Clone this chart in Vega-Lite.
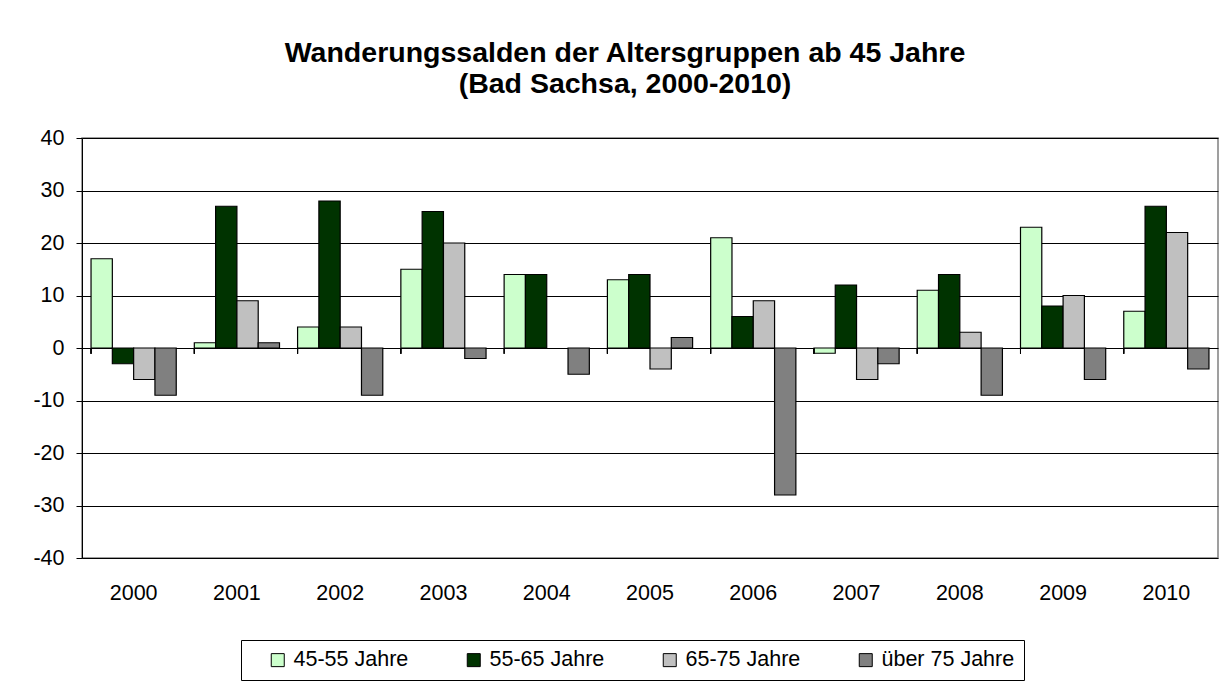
{
  "$schema": "https://vega.github.io/schema/vega-lite/v6.json",
  "width": 1136,
  "height": 420,
  "autosize": "none",
  "padding": {"left": 82, "top": 138, "right": 5, "bottom": 133},
  "background": "white",
  "title": {
    "text": ["Wanderungssalden der Altersgruppen ab 45 Jahre", "(Bad Sachsa, 2000-2010)"],
    "font": "Liberation Sans",
    "fontSize": 28.5,
    "fontWeight": "bold",
    "color": "black",
    "anchor": "middle",
    "frame": "group",
    "lineHeight": 31,
    "offset": 29,
    "dx": -25
  },
  "config": {
    "view": {"stroke": "#808080", "strokeWidth": 1.5},
    "font": "Liberation Sans"
  },
  "data": {
    "values": [
      {"year": "2000", "group": "45-55 Jahre", "value": 17},
      {"year": "2000", "group": "55-65 Jahre", "value": -3},
      {"year": "2000", "group": "65-75 Jahre", "value": -6},
      {"year": "2000", "group": "über 75 Jahre", "value": -9},
      {"year": "2001", "group": "45-55 Jahre", "value": 1},
      {"year": "2001", "group": "55-65 Jahre", "value": 27},
      {"year": "2001", "group": "65-75 Jahre", "value": 9},
      {"year": "2001", "group": "über 75 Jahre", "value": 1},
      {"year": "2002", "group": "45-55 Jahre", "value": 4},
      {"year": "2002", "group": "55-65 Jahre", "value": 28},
      {"year": "2002", "group": "65-75 Jahre", "value": 4},
      {"year": "2002", "group": "über 75 Jahre", "value": -9},
      {"year": "2003", "group": "45-55 Jahre", "value": 15},
      {"year": "2003", "group": "55-65 Jahre", "value": 26},
      {"year": "2003", "group": "65-75 Jahre", "value": 20},
      {"year": "2003", "group": "über 75 Jahre", "value": -2},
      {"year": "2004", "group": "45-55 Jahre", "value": 14},
      {"year": "2004", "group": "55-65 Jahre", "value": 14},
      {"year": "2004", "group": "über 75 Jahre", "value": -5},
      {"year": "2005", "group": "45-55 Jahre", "value": 13},
      {"year": "2005", "group": "55-65 Jahre", "value": 14},
      {"year": "2005", "group": "65-75 Jahre", "value": -4},
      {"year": "2005", "group": "über 75 Jahre", "value": 2},
      {"year": "2006", "group": "45-55 Jahre", "value": 21},
      {"year": "2006", "group": "55-65 Jahre", "value": 6},
      {"year": "2006", "group": "65-75 Jahre", "value": 9},
      {"year": "2006", "group": "über 75 Jahre", "value": -28},
      {"year": "2007", "group": "45-55 Jahre", "value": -1},
      {"year": "2007", "group": "55-65 Jahre", "value": 12},
      {"year": "2007", "group": "65-75 Jahre", "value": -6},
      {"year": "2007", "group": "über 75 Jahre", "value": -3},
      {"year": "2008", "group": "45-55 Jahre", "value": 11},
      {"year": "2008", "group": "55-65 Jahre", "value": 14},
      {"year": "2008", "group": "65-75 Jahre", "value": 3},
      {"year": "2008", "group": "über 75 Jahre", "value": -9},
      {"year": "2009", "group": "45-55 Jahre", "value": 23},
      {"year": "2009", "group": "55-65 Jahre", "value": 8},
      {"year": "2009", "group": "65-75 Jahre", "value": 10},
      {"year": "2009", "group": "über 75 Jahre", "value": -6},
      {"year": "2010", "group": "45-55 Jahre", "value": 7},
      {"year": "2010", "group": "55-65 Jahre", "value": 27},
      {"year": "2010", "group": "65-75 Jahre", "value": 22},
      {"year": "2010", "group": "über 75 Jahre", "value": -4}
    ]
  },
  "layer": [
    {
      "mark": {"type": "bar", "stroke": "black", "strokeWidth": 1.2},
      "encoding": {
        "x": {
          "field": "year",
          "type": "nominal",
          "scale": {"paddingInner": 0.175, "paddingOuter": 0.0875},
          "axis": {
            "title": null,
            "labelAngle": 0,
            "domain": false,
            "ticks": false,
            "labelPadding": 24,
            "labelFontSize": 21.5,
            "labelColor": "black",
            "labelFont": "Liberation Sans"
          }
        },
        "xOffset": {
          "field": "group",
          "type": "nominal",
          "scale": {"domain": ["45-55 Jahre", "55-65 Jahre", "65-75 Jahre", "über 75 Jahre"], "paddingInner": 0, "paddingOuter": 0}
        },
        "y": {
          "field": "value",
          "type": "quantitative",
          "scale": {"domain": [-40, 40], "nice": false, "zero": false},
          "axis": {
            "title": null,
            "values": [-40, -30, -20, -10, 0, 10, 20, 30, 40],
            "labelExpr": "'' + datum.value",
            "grid": true,
            "gridColor": "black",
            "gridWidth": 1,
            "gridOpacity": 1,
            "domainColor": "black",
            "domainWidth": 1,
            "tickColor": "black",
            "tickSize": 6,
            "labelPadding": 12,
            "labelFontSize": 21.5,
            "labelColor": "black",
            "labelFont": "Liberation Sans"
          }
        },
        "color": {
          "field": "group",
          "type": "nominal",
          "scale": {
            "domain": ["45-55 Jahre", "55-65 Jahre", "65-75 Jahre", "über 75 Jahre"],
            "range": ["#CCFFCC", "#003300", "#C0C0C0", "#808080"]
          },
          "legend": {
            "title": " ",
            "titleOrient": "left",
            "titleFontSize": 1,
            "titlePadding": 17,
            "orient": "none",
            "legendX": 159,
            "legendY": 502,
            "direction": "horizontal",
            "columns": 4,
            "gridAlign": "all",
            "columnPadding": 36,
            "padding": 9,
            "strokeColor": "black",
            "fillColor": "white",
            "symbolType": "square",
            "symbolSize": 169,
            "symbolStrokeColor": "black",
            "symbolStrokeWidth": 1,
            "labelFontSize": 21.5,
            "labelFont": "Liberation Sans",
            "labelColor": "black",
            "labelOffset": 5
          }
        }
      }
    },
    {
      "mark": {"type": "rule", "color": "black", "strokeWidth": 1},
      "encoding": {
        "x": {"field": "year", "type": "nominal", "bandPosition": 0},
        "y": {"datum": 0},
        "y2": {"datum": -1.1}
      }
    }
  ]
}
